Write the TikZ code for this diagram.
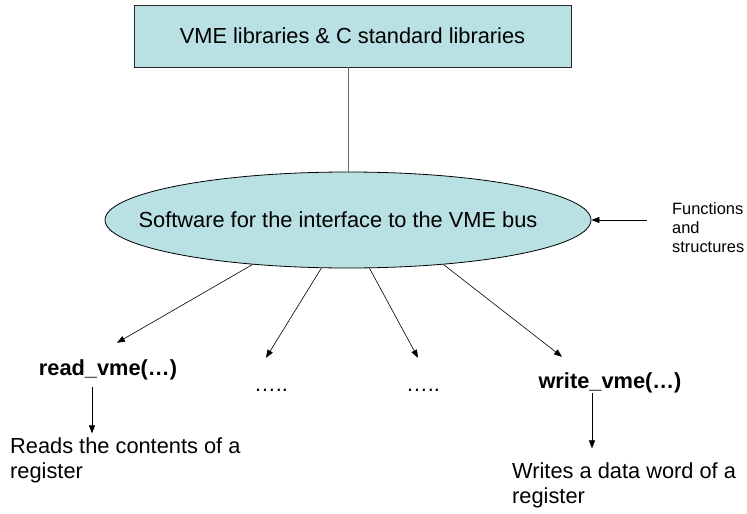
\documentclass[tikz,border=0pt]{standalone}
\usepackage{fontspec}
\setmainfont{Liberation Sans}
\usepackage{xcolor}
\usetikzlibrary{shapes.geometric, arrows.meta, positioning}
\definecolor{vmecyan}{RGB}{185,224,227}
\tikzstyle{libbox} = [rectangle, draw=black!85, line width=0.8pt, fill=vmecyan, minimum width=437pt, minimum height=62pt, inner sep=0pt, font=\fontsize{21.8}{25}\selectfont]
\tikzstyle{iface} = [ellipse, draw=black, line width=0.8pt, fill=vmecyan, minimum width=486pt, minimum height=96pt, inner sep=0pt]
\tikzstyle{ifacetext} = [inner sep=0pt, font=\fontsize{21.8}{25}\selectfont]
\tikzstyle{fncall} = [inner sep=0pt, text height=16pt, text depth=5pt, font=\bfseries\fontsize{21.8}{25}\selectfont]
\tikzstyle{dotsnode} = [inner sep=0pt, text height=16pt, text depth=5pt, font=\fontsize{21.8}{25}\selectfont]
\tikzstyle{descr} = [align=left, anchor=north west, inner sep=0pt, font=\fontsize{21.8}{25}\selectfont]
\tikzstyle{note} = [align=left, anchor=north west, inner sep=0pt, font=\fontsize{16.4}{19}\selectfont]
\tikzstyle{arrow} = [line width=0.6pt,-{Triangle[length=8pt,width=6pt]}]

\begin{document}
\begin{tikzpicture}[x=1pt, y=-1pt]
    \useasboundingbox (0,0) rectangle (747,514);

    \node[libbox] (libs) at (352.5,36) {VME libraries \& C standard libraries};
    \node[iface] (sw) at (348,220) {};
    \node[ifacetext] (swtext) at (338,220) {Software for the interface to the VME bus};
    \node[note] (funcs) at (672,202) {Functions\\and\\structures};

    \node[fncall, anchor=base] (readfn) at (108,375) {read\_vme(…)};
    \node[dotsnode, anchor=base] (dotsa) at (271,391) {…..};
    \node[dotsnode, anchor=base] (dotsb) at (423,391) {…..};
    \node[fncall, anchor=base] (writefn) at (610,388) {write\_vme(…)};

    \node[descr] (readtxt) at (10,437.4) {Reads the contents of a\\register};
    \node[descr] (writetxt) at (512,462.4) {Writes a data word of a\\register};

    \draw[black!60, line width=1pt] (libs.south -| sw.north) -- (sw.north);
    \draw[arrow] ([xshift=-25pt]funcs.north west |- sw.east) -- (sw.east);

    \draw[arrow] (sw.205) -- ([xshift=9pt,yshift=16pt]readfn.north);
    \draw[arrow] (sw.241.6) -- ([xshift=-5pt,yshift=17pt]dotsa.north);
    \draw[arrow] (sw.294.6) -- ([xshift=-5pt,yshift=17pt]dotsb.north);
    \draw[arrow] (sw.335.5) -- ([xshift=-48pt,yshift=15pt]writefn.north);

    \draw[arrow] ([xshift=-16pt,yshift=-7pt]readfn.south) -- ([xshift=82pt,yshift=4pt]readtxt.north west);
    \draw[arrow] ([xshift=-18pt]writefn.south) -- ([xshift=80pt,yshift=14pt]writetxt.north west);
\end{tikzpicture}
\end{document}
